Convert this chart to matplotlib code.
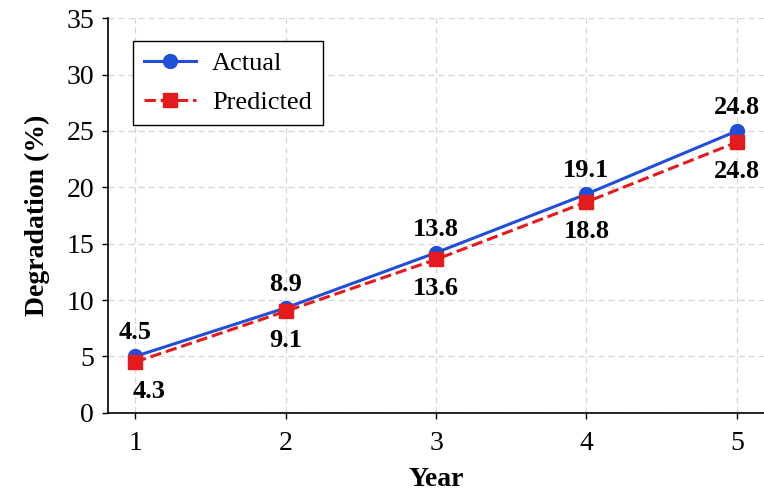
import matplotlib
matplotlib.use("Agg")
import matplotlib.pyplot as plt

# data
years = [1, 2, 3, 4, 5]
actual = [5.0, 9.3, 14.2, 19.4, 25.0]
predicted = [4.5, 9.0, 13.6, 18.7, 24.0]
actual_labels = ["4.5", "8.9", "13.8", "19.1", "24.8"]
predicted_labels = ["4.3", "9.1", "13.6", "18.8", "24.8"]
y_ticks = [0, 5, 10, 15, 20, 25, 30, 35]

plt.rcParams["font.family"] = ["Liberation Serif", "DejaVu Serif"]

fig = plt.figure(figsize=(7.64, 4.92), dpi=100)
ax = fig.add_axes([0.1414, 0.161, 0.8586, 0.802])

ax.plot(years, actual, color="#1f4fd6", lw=2.2, marker="o", ms=10,
        label="Actual", zorder=3)
ax.plot(years, predicted, color="#e41a1c", lw=2.2, ls="--", marker="s", ms=10,
        label="Predicted", zorder=4)

for i, (x, y) in enumerate(zip(years, actual)):
    ax.annotate(actual_labels[i], (x, y), xytext=(0, 17), textcoords="offset points",
                ha="center", va="center", fontsize=19, fontweight="bold")
for i, (x, y) in enumerate(zip(years, predicted)):
    dx = 10 if i == 0 else 0
    ax.annotate(predicted_labels[i], (x, y), xytext=(dx, -21), textcoords="offset points",
                ha="center", va="center", fontsize=19, fontweight="bold")

ax.set_xlim(0.82, 5.18)
ax.set_ylim(0, 35)
ax.set_xticks(years)
ax.set_yticks(y_ticks)
ax.tick_params(labelsize=20, length=4, width=1)
ax.tick_params(axis="x", pad=9)
ax.tick_params(axis="y", pad=6)
ax.grid(True, ls=(0, (5, 3)), color="#d6d6d6", lw=0.9)
ax.set_axisbelow(True)
for s in ["top", "right"]:
    ax.spines[s].set_visible(False)
for s in ["left", "bottom"]:
    ax.spines[s].set_linewidth(1.2)

ax.set_xlabel("Year", fontsize=20, fontweight="bold", labelpad=8)
ax.set_ylabel("Degradation (%)", fontsize=20, fontweight="bold", labelpad=12)

leg = ax.legend(loc="upper left", bbox_to_anchor=(0.038, 0.942), borderaxespad=0,
                fancybox=False, edgecolor="black", fontsize=19, framealpha=1,
                handletextpad=0.6, labelspacing=0.6)
leg.get_frame().set_linewidth(1)

fig.savefig("out.png", dpi=100, facecolor="white")
